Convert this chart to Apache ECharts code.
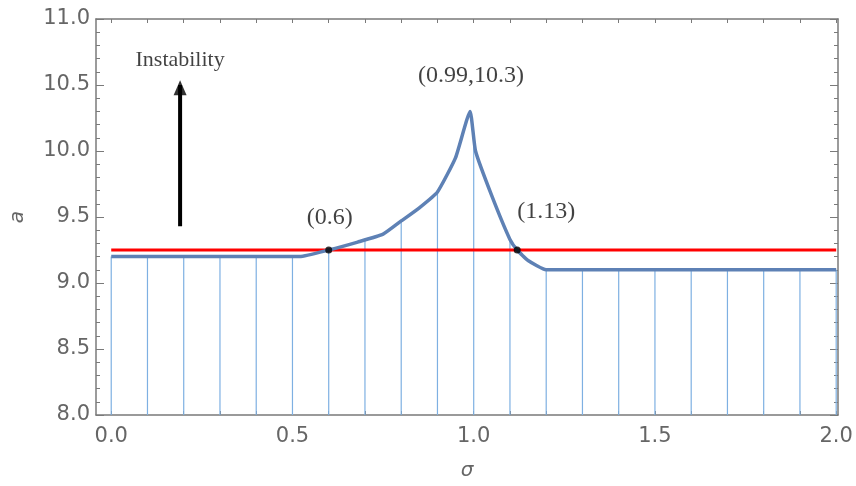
<!DOCTYPE html>
<html>
<head>
<meta charset="utf-8">
<script src="https://cdn.jsdelivr.net/npm/echarts@6/dist/echarts.min.js"></script>
<style>
  html, body { margin: 0; padding: 0; background: #fff; }
  #chart { width: 856px; height: 486px; }
</style>
</head>
<body>
<div id="chart"></div>
<script>
// curve a(sigma)
var curveX = [0, 0.52, 0.6, 0.68, 0.75, 0.8, 0.85, 0.9, 0.95, 0.99, 1.005, 1.05, 1.1, 1.12, 1.15, 1.2, 2.0];
var curveY = [9.2, 9.2, 9.25, 9.31, 9.37, 9.47, 9.57, 9.69, 9.95, 10.3, 10.0, 9.66, 9.33, 9.25, 9.17, 9.1, 9.1];

// vertical stems (filling) at every 0.1
var stemX = [0, 0.1, 0.2, 0.3, 0.4, 0.5, 0.6, 0.7, 0.8, 0.9, 1.0, 1.1, 1.2, 1.3, 1.4, 1.5, 1.6, 1.7, 1.8, 1.9, 2.0];
var stemY = [9.2, 9.2, 9.2, 9.2, 9.2, 9.2, 9.25, 9.32, 9.47, 9.69, 10.1, 9.32, 9.1, 9.1, 9.1, 9.1, 9.1, 9.1, 9.1, 9.1, 9.1];

// threshold line
var thresholdX = [0, 2.0];
var thresholdY = [9.25, 9.25];

// crossing points
var crossX = [0.6, 1.12];
var crossY = [9.25, 9.25];

// tick labels
var xTicks = [0, 0.1, 0.2, 0.3, 0.4, 0.5, 0.6, 0.7, 0.8, 0.9, 1.0, 1.1, 1.2, 1.3, 1.4, 1.5, 1.6, 1.7, 1.8, 1.9, 2.0];
var xLabels = [0, 0.5, 1.0, 1.5, 2.0];
var yMin = 8, yMax = 11, yStep = 0.5;

// annotations
var noteX = [0.6, 1.12, 0.99];
var noteY = [9.25, 9.25, 10.3];
var noteText = ['(0.6)', '(1.13)', '(0.99,10.3)'];
var arrowFrom = [0.19, 9.43];
var arrowTo = [0.19, 10.5];
var arrowTip = [0.19, 10.48];
var instabilityPos = [0.19, 10.69];

function zip(a, b) {
    return a.map(function (v, i) { return [v, b[i]]; });
}

var chart = echarts.init(document.getElementById('chart'));

var axisColor = '#7a7a7a';
var labelFont = { color: '#666', fontFamily: 'DejaVu Sans', fontSize: 21 };
var serif = 'Liberation Serif';

var xBase = {
    type: 'value', min: -0.042, max: 2.005,
    axisLine: { show: true, onZero: false, lineStyle: { color: axisColor, width: 1.5 } },
    axisTick: { show: true, inside: true, length: 4, customValues: xTicks, lineStyle: { color: axisColor } },
    splitLine: { show: false }
};
var yBase = {
    type: 'value', min: yMin, max: yMax, interval: yStep,
    axisLine: { show: true, onZero: false, lineStyle: { color: axisColor, width: 1.5 } },
    axisTick: { show: true, inside: true, length: 8, lineStyle: { color: axisColor } },
    minorTick: { show: true, splitNumber: 5, length: 4, lineStyle: { color: axisColor } },
    splitLine: { show: false },
    minorSplitLine: { show: false }
};

chart.setOption({
    animation: false,
    backgroundColor: '#fff',
    grid: { left: 96, top: 19, right: 18, bottom: 70 },
    xAxis: [
        Object.assign({}, xBase, {
            position: 'bottom',
            name: 'σ', nameLocation: 'middle', nameGap: 46,
            nameTextStyle: { color: '#666', fontFamily: 'DejaVu Sans', fontSize: 20, fontStyle: 'italic' },
            axisLabel: Object.assign({ show: true, margin: 11, customValues: xLabels,
                formatter: function (v) { return v.toFixed(1); } }, labelFont)
        }),
        Object.assign({}, xBase, { position: 'top', axisLabel: { show: false } })
    ],
    yAxis: [
        Object.assign({}, yBase, {
            position: 'left',
            name: 'a', nameLocation: 'middle', nameGap: 68, nameRotate: 90,
            nameTextStyle: { color: '#666', fontFamily: 'DejaVu Sans', fontSize: 20, fontStyle: 'italic' },
            axisLabel: Object.assign({ show: true, margin: 6,
                formatter: function (v) { return v.toFixed(1); } }, labelFont)
        }),
        Object.assign({}, yBase, { position: 'right', axisLabel: { show: false } })
    ],
    series: [
        {
            type: 'custom',
            xAxisIndex: 0, yAxisIndex: 0,
            data: zip(stemX, stemY),
            z: 1,
            renderItem: function (params, api) {
                var p0 = api.coord([api.value(0), yMin]);
                var p1 = api.coord([api.value(0), api.value(1)]);
                return {
                    type: 'line',
                    shape: { x1: p0[0], y1: p0[1], x2: p1[0], y2: p1[1] },
                    style: { stroke: '#7eb0e2', lineWidth: 1.2 }
                };
            }
        },
        {
            type: 'line',
            data: zip(thresholdX, thresholdY),
            showSymbol: false,
            lineStyle: { color: '#ff0000', width: 3 },
            z: 2
        },
        {
            type: 'line',
            data: zip(curveX, curveY),
            showSymbol: false,
            smooth: 0.15,
            lineStyle: { color: '#5e81b5', width: 3.5 },
            z: 3
        },
        {
            type: 'scatter',
            data: zip(crossX, crossY),
            symbolSize: 7,
            itemStyle: { color: '#000' },
            z: 5
        },
        {
            type: 'scatter',
            data: noteX.map(function (x, i) { return [x, noteY[i], noteText[i]]; }),
            symbolSize: 0,
            z: 6,
            label: {
                show: true,
                color: '#111',
                fontFamily: serif,
                fontSize: 24,
                formatter: function (p) { return p.value[2]; },
                position: 'top',
                distance: 0
            },
            labelLayout: function (params) {
                var i = params.dataIndex;
                var offs = [[1, -32], [29, -38], [1, -36]];
                var r = params.rect;
                return {
                    x: r.x + offs[i][0],
                    y: r.y + r.height + offs[i][1],
                    align: 'center',
                    verticalAlign: 'middle'
                };
            }
        },
        {
            type: 'line',
            data: [arrowFrom, arrowTo],
            showSymbol: false,
            lineStyle: { color: '#000', width: 4 },
            z: 6
        },
        {
            type: 'scatter',
            data: [arrowTip],
            symbol: 'triangle',
            symbolSize: [13, 15],
            itemStyle: { color: '#000' },
            z: 7
        },
        {
            type: 'scatter',
            data: [[instabilityPos[0], instabilityPos[1], 'Instability']],
            symbolSize: 0,
            label: {
                show: true,
                position: 'inside',
                color: '#111',
                fontFamily: serif,
                fontSize: 22,
                formatter: function (p) { return p.value[2]; }
            }
        }
    ]
});
</script>
</body>
</html>
